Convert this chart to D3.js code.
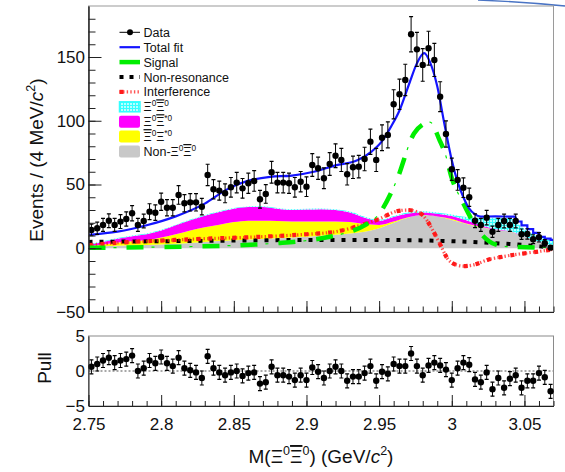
<!DOCTYPE html>
<html>
<head>
<meta charset="utf-8">
<script src="https://cdn.jsdelivr.net/npm/d3@7"></script>
<style>
  body { margin: 0; background: #fff; }
  svg { display: block; font-family: "Liberation Sans", Arial, Helvetica, sans-serif; }
</style>
</head>
<body>
<div id="wrapper"></div>
<script>
// 4 MeV bins from 2.75 to 3.07
const binCenters = d3.range(80).map(i => 2.752 + 0.004 * i)

const counts = [
  14.4, 15.7, 18.3, 21.6, 18.3, 20.9, 23, 27.4, 18.3, 21.4,
  28.7, 27.9, 36.5, 31.8, 31.8, 41.8, 35.3, 36, 36, 32.6,
  57.5, 46.3, 45.2, 43.1, 47.8, 51.5, 47, 51, 52.8, 38.4,
  42.6, 59.6, 51.5, 51.5, 51, 47.8, 52.2, 48.3, 65.3, 62.7,
  54.9, 66.1, 72.6, 69.3, 58, 63.5, 64, 70, 83.6, 69.3,
  86.7, 88.9, 112.9, 120.8, 132, 167.8, 156, 143.8, 156.9, 147.7,
  118.9, 89.6, 62, 53.6, 47.5, 40, 21.6, 18.3, 24, 13,
  18.3, 21.4, 18.3, 21.4, 11, 11.2, 7.1, 8.6, 3.9, 0.5
]
const countErrors = [
  4.6, 4.8, 5.1, 5.4, 5.1, 5.4, 5.6, 6.0, 5.1, 5.4,
  6.2, 6.1, 6.8, 6.4, 6.4, 7.3, 6.7, 6.8, 6.8, 6.5,
  8.4, 7.6, 7.5, 7.4, 7.7, 8.0, 7.7, 7.9, 8.1, 7.0,
  7.3, 8.5, 8.0, 8.0, 7.9, 7.7, 8.0, 7.7, 8.9, 8.7,
  8.2, 8.9, 9.3, 9.1, 8.4, 8.8, 8.8, 9.2, 9.9, 9.1,
  10.1, 10.2, 11.4, 11.8, 12.3, 13.8, 13.3, 12.8, 13.3, 13.0,
  11.7, 10.3, 8.7, 8.1, 7.7, 7.1, 5.4, 5.1, 5.7, 4.4,
  5.1, 5.4, 5.1, 5.4, 4.1, 4.1, 3.5, 3.7, 2.8, 1.5
]
const pulls = [
  0.6, 1.0, 1.5, 1.9, 1.2, 1.5, 1.7, 2.2, 0.0, 0.4,
  1.5, 1.1, 2.0, 1.1, 0.7, 1.9, 0.4, 0.1, -0.2, -1.0,
  2.1, 0.4, -0.2, -0.6, -0.2, 0.0, -0.7, -0.3, -0.2, -1.8,
  -1.6, 0.6, -0.6, -0.6, -0.8, -1.3, -0.6, -1.3, 0.5, -0.1,
  -1.0, 0.0, 0.6, 0.0, -1.4, -0.8, -0.8, -0.3, 0.7, -1.4,
  -0.1, -0.4, 1.0, 0.7, 0.7, 2.5, 0.7, -0.6, 0.8, 1.2,
  0.8, 0.2, -1.3, 0.4, 1.2, 0.9, -1.2, -1.6, -0.2, -2.6,
  -1.0, -2.4, -1.1, -0.6, -2.4, -1.4, -1.4, -0.3, -0.9, -2.9
]
const pullError = 1

// total fit (smooth part, then the binned tail)
const fitMass = [2.75, 2.77, 2.79, 2.81, 2.83, 2.845, 2.86, 2.875, 2.89, 2.905, 2.92, 2.935, 2.945, 2.952, 2.958, 2.964, 2.971, 2.976, 2.981, 2.985, 2.99, 2.995, 3.0, 3.004, 3.008, 3.012, 3.016, 3.02, 3.03, 3.04, 3.044]
const fitValue = [10.5, 13, 18, 25, 35, 46, 53, 56, 57, 60, 65, 69, 76, 84, 95, 108, 130, 145, 153, 146, 127, 97, 69, 52, 40, 31, 26.5, 24.8, 25, 24.8, 24.8]
const fitTailMass = [3.044, 3.044, 3.048, 3.052, 3.056, 3.060, 3.064, 3.068, 3.07]
const fitTailValue = [24.8, 21, 18, 15, 12, 9, 7.5, 6.5, 6.5]

const signalMass = [2.75, 2.8, 2.85, 2.88, 2.9, 2.916, 2.93, 2.94, 2.95, 2.962, 2.974, 2.98, 2.985, 2.9915, 2.9955, 3.0, 3.0076, 3.019, 3.03, 3.04, 3.07]
const signalValue = [0.3, 1, 2.2, 4, 6, 9, 13, 18, 27, 53, 90, 97, 99, 85, 74, 55, 36, 13, 3, 1.2, 0.5]

const nonResMass = [2.75, 2.8, 2.85, 2.9, 2.95, 3.0, 3.03, 3.05, 3.06, 3.07]
const nonResValue = [5, 5.5, 6, 6.5, 6.5, 5.5, 4, 2.5, 1.5, 0.5]

const interfMass = [2.75, 2.78, 2.8, 2.83, 2.86, 2.9, 2.92, 2.94, 2.95, 2.962, 2.97, 2.975, 2.98, 2.986, 2.992, 2.997, 3.003, 3.008, 3.015, 3.025, 3.035, 3.05, 3.06, 3.07]
const interfValue = [2.5, 5, 6, 7.5, 8.6, 11, 13, 19, 23, 29, 30, 29, 26, 16, 3, -8, -13, -14, -13, -9, -6.6, -4, -2.5, -0.8]

// stacked background components, every 10 MeV
const stackMass = d3.range(33).map(i => 2.75 + 0.01 * i)
const greyComp = [0.8, 1.5, 2, 2.3, 2.6, 3, 3.5, 4.2, 5, 5.6, 6.2, 6.8, 7.3, 7.8, 8.5, 9, 9.8, 10.5, 11.5, 13, 15.7, 20, 24, 26, 25, 22.2, 19, 16.5, 14.5, 13, 9, 5, 1.3]
const yellowComp = [0.7, 1.5, 2.5, 3.2, 3.9, 5.5, 7.5, 9.8, 11.5, 12.9, 14.3, 14.8, 14.3, 13.6, 12.5, 12, 11.2, 10.5, 9, 6, 2.6, 1, 0.3, 0, 0, 0.8, 0.5, 0.3, 0.1, 0.1, 0, 0, 0]
const magentaComp = [1, 2, 3, 4, 4.5, 5.5, 7, 8, 9, 10, 10.5, 10.7, 10.7, 9.6, 9, 9.3, 9.6, 9, 7.5, 5, 3.2, 3.5, 3, 2, 2, 2.3, 2.5, 1.2, 0.4, 0.4, 0.2, 0.1, 0]
const cyanComp = [0.5, 0.5, 0.5, 0.5, 0.5, 0.5, 0.5, 0.5, 0.5, 0.5, 0.5, 0.5, 0.7, 0.6, 0.6, 0.7, 0.6, 0.6, 0.8, 0.8, 0.8, 0.8, 1, 1, 1, 1.2, 2.5, 6, 9, 10, 5.8, 3.9, 5.2]

const xMajorTicks = [2.75, 2.8, 2.85, 2.9, 2.95, 3.0, 3.05]
const yMajorTicks = [-50, 0, 50, 100, 150]
const pullTicks = [-5, 0, 5]

const legendLabels = [
  [{ t: "Data" }],
  [{ t: "Total fit" }],
  [{ t: "Signal" }],
  [{ t: "Non-resonance" }],
  [{ t: "Interference" }],
  [{ t: "Ξ" }, { t: "0", sup: true }, { t: "Ξ", bar: true }, { t: "0", sup: true }],
  [{ t: "Ξ" }, { t: "0", sup: true }, { t: "Ξ", bar: true }, { t: "*0", sup: true }],
  [{ t: "Ξ", bar: true }, { t: "0", sup: true }, { t: "Ξ" }, { t: "*0", sup: true }],
  [{ t: "Non-Ξ" }, { t: "0", sup: true }, { t: "Ξ", bar: true }, { t: "0", sup: true }]
]
const xTitle = [{ t: "M(Ξ" }, { t: "0", sup: true }, { t: "Ξ", bar: true }, { t: "0", sup: true }, { t: ") (GeV/" }, { t: "c", it: true }, { t: "2", sup: true }, { t: ")" }]
const yTitle = [{ t: "Events / (4 MeV/" }, { t: "c", it: true }, { t: "2", sup: true }, { t: ")" }]

const dimensions = {
  width: 565,
  height: 472,
  left: 88.5,
  right: 553.5,
  mainTop: 6,
  mainBottom: 312,
  pullTop: 336,
  pullBottom: 406
}

const colors = {
  grey: "#c8c8c8",
  yellow: "#ffff00",
  magenta: "#ff00ff",
  cyan: "#33ffff",
  signal: "#00ee00",
  fit: "#1414ff",
  interf: "#ff1a1a"
}

const svg = d3.select("#wrapper")
  .append("svg")
    .attr("width", dimensions.width)
    .attr("height", dimensions.height)

const xScale = d3.scaleLinear()
  .domain([2.75, 3.07])
  .range([dimensions.left, dimensions.right])
const yScale = d3.scaleLinear()
  .domain([-50, 190])
  .range([dimensions.mainBottom, dimensions.mainTop])
const pullScale = d3.scaleLinear()
  .domain([-5, 5])
  .range([dimensions.pullBottom, dimensions.pullTop])

const defs = svg.append("defs")
defs.append("clipPath").attr("id", "clipMain")
  .append("rect")
    .attr("x", dimensions.left).attr("y", dimensions.mainTop)
    .attr("width", dimensions.right - dimensions.left)
    .attr("height", dimensions.mainBottom - dimensions.mainTop)
const hatch = defs.append("pattern")
  .attr("id", "hatch")
  .attr("patternUnits", "userSpaceOnUse")
  .attr("width", 3).attr("height", 3)
hatch.append("rect").attr("width", 3).attr("height", 3).attr("fill", "#b8ffff")
hatch.append("path").attr("d", "M0,0.5H3M0.5,0V3").attr("stroke", colors.cyan).attr("stroke-width", 1)

// slide decoration at the top edge
svg.append("line")
  .attr("x1", dimensions.right).attr("x2", 565).attr("y1", 5.5).attr("y2", 5.5)
  .attr("stroke", "#cfcfcf")
svg.append("path")
  .attr("d", "M478,0 Q525,2 565,6")
  .attr("fill", "none").attr("stroke", "#4a74c4").attr("stroke-width", 1.3)

const plot = svg.append("g").attr("clip-path", "url(#clipMain)")

// stacked backgrounds
const stackRows = stackMass.map((m, i) => ({
  m, grey: greyComp[i], yellow: yellowComp[i], magenta: magentaComp[i], cyan: cyanComp[i]
}))
const series = d3.stack().keys(["grey", "yellow", "magenta", "cyan"])(stackRows)
const areaGen = d3.area()
  .x(d => xScale(d.data.m))
  .y0(d => yScale(d[0]))
  .y1(d => yScale(d[1]))
  .curve(d3.curveMonotoneX)
const fills = { grey: colors.grey, yellow: colors.yellow, magenta: colors.magenta, cyan: "url(#hatch)" }
plot.selectAll("path.layer")
  .data(series)
  .join("path")
    .attr("class", "layer")
    .attr("d", areaGen)
    .attr("fill", d => fills[d.key])

const curve = (xs, ys, c) => d3.line()
  .x((d, i) => xScale(xs[i]))
  .y((d, i) => yScale(ys[i]))
  .curve(c || d3.curveMonotoneX)(xs)

// non-resonance
plot.append("path")
  .attr("d", curve(nonResMass, nonResValue))
  .attr("fill", "none").attr("stroke", "#000")
  .attr("stroke-width", 4).attr("stroke-dasharray", "4,7")

// interference
plot.append("path")
  .attr("d", curve(interfMass, interfValue))
  .attr("fill", "none").attr("stroke", colors.interf).attr("stroke-opacity", 0.75)
  .attr("stroke-width", 3.2).attr("stroke-dasharray", "1.4,2.2")
plot.append("path")
  .attr("d", curve(interfMass, interfValue))
  .attr("fill", "none").attr("stroke", colors.interf)
  .attr("stroke-width", 4.2).attr("stroke-dasharray", "4,8")

// signal
plot.append("path")
  .attr("d", curve(signalMass, signalValue))
  .attr("fill", "none").attr("stroke", colors.signal)
  .attr("stroke-width", 1.2).attr("stroke-dasharray", "3,35").attr("stroke-dashoffset", -25)
plot.append("path")
  .attr("d", curve(signalMass, signalValue))
  .attr("fill", "none").attr("stroke", colors.signal)
  .attr("stroke-width", 4.5).attr("stroke-dasharray", "17,21")

// total fit
plot.append("path")
  .attr("d", curve(fitMass, fitValue))
  .attr("fill", "none").attr("stroke", colors.fit).attr("stroke-width", 2.2)
plot.append("path")
  .attr("d", curve(fitTailMass, fitTailValue, d3.curveStepAfter))
  .attr("fill", "none").attr("stroke", colors.fit).attr("stroke-width", 2.2)

// data points
const drawPoints = (g, xs, ys, errs, yS) => {
  const pts = g.selectAll("g.pt")
    .data(xs.map((x, i) => ({ x, y: ys[i], e: errs[i] })))
    .join("g").attr("class", "pt")
  pts.append("line")
    .attr("x1", d => xScale(d.x)).attr("x2", d => xScale(d.x))
    .attr("y1", d => yS(d.y - d.e)).attr("y2", d => yS(d.y + d.e))
    .attr("stroke", "#000").attr("stroke-width", 1)
  pts.append("path")
    .attr("d", d => {
      const cx = xScale(d.x)
      return `M${cx - 2},${yS(d.y - d.e)}H${cx + 2}M${cx - 2},${yS(d.y + d.e)}H${cx + 2}`
    })
    .attr("stroke", "#000").attr("stroke-width", 1.2)
  pts.append("circle")
    .attr("cx", d => xScale(d.x)).attr("cy", d => yS(d.y))
    .attr("r", 3.2).attr("fill", "#000")
}
drawPoints(plot.append("g"), binCenters, counts, countErrors, yScale)

// frames
svg.append("rect")
  .attr("x", dimensions.left).attr("y", dimensions.mainTop)
  .attr("width", dimensions.right - dimensions.left)
  .attr("height", dimensions.mainBottom - dimensions.mainTop)
  .attr("fill", "none").attr("stroke", "#9a9a9a")
svg.append("rect")
  .attr("x", dimensions.left).attr("y", dimensions.pullTop)
  .attr("width", dimensions.right - dimensions.left)
  .attr("height", dimensions.pullBottom - dimensions.pullTop)
  .attr("fill", "none").attr("stroke", "#8a8a8a")

const styleAxis = g => {
  g.attr("font-size", 17).attr("font-family", "Liberation Sans, Arial, sans-serif")
  g.selectAll("text").attr("fill", "#111")
  g.selectAll("line").attr("stroke", "#222")
  g.select(".domain").attr("stroke", "#222")
}

// main panel axes
svg.append("g")
  .attr("transform", `translate(${dimensions.left},0)`)
  .call(d3.axisLeft(yScale).tickValues(d3.range(-40, 190, 10)).tickSize(-7).tickSizeOuter(0).tickFormat(""))
  .call(styleAxis)
svg.append("g")
  .attr("transform", `translate(${dimensions.left},0)`)
  .call(d3.axisLeft(yScale).tickValues(yMajorTicks).tickSize(-13).tickSizeOuter(0).tickPadding(3.5).tickFormat(d3.format("d")))
  .call(styleAxis)
svg.append("g")
  .attr("transform", `translate(0,${dimensions.mainBottom})`)
  .call(d3.axisBottom(xScale).tickValues(d3.range(0, 33).map(i => 2.75 + 0.01 * i)).tickSize(-5.5).tickSizeOuter(0).tickFormat(""))
  .call(styleAxis)
svg.append("g")
  .attr("transform", `translate(0,${dimensions.mainBottom})`)
  .call(d3.axisBottom(xScale).tickValues(xMajorTicks).tickSize(-11).tickSizeOuter(0).tickFormat(""))
  .call(styleAxis)

// pull panel
const pullG = svg.append("g")
pullG.append("line")
  .attr("x1", dimensions.left).attr("x2", dimensions.right)
  .attr("y1", pullScale(0)).attr("y2", pullScale(0))
  .attr("stroke", "#8c8c8c").attr("stroke-width", 1.6).attr("stroke-dasharray", "2,2")
drawPoints(pullG, binCenters, pulls, binCenters.map(() => pullError), pullScale)

svg.append("g")
  .attr("transform", `translate(0,${dimensions.pullBottom})`)
  .call(d3.axisBottom(xScale).tickValues(d3.range(0, 33).map(i => 2.75 + 0.01 * i)).tickSize(-5).tickSizeOuter(0).tickFormat(""))
  .call(styleAxis)
svg.append("g")
  .attr("transform", `translate(0,${dimensions.pullBottom})`)
  .call(d3.axisBottom(xScale).tickValues(xMajorTicks).tickSize(-11).tickSizeOuter(0).tickPadding(12)
    .tickFormat(d => String(+d.toFixed(2))))
  .call(styleAxis)
svg.append("g")
  .attr("transform", `translate(${dimensions.left},0)`)
  .call(d3.axisLeft(pullScale).tickValues(pullTicks).tickSize(0).tickSizeOuter(0).tickPadding(3.5).tickFormat(d3.format("d")))
  .call(styleAxis)

// rich text helper for super-scripts, bars, italics
function richText(sel, parts, size) {
  let shift = 0
  parts.forEach(p => {
    const target = p.sup ? -0.42 * size : 0
    const ts = sel.append("tspan").text(p.t).attr("dy", target - shift)
    shift = target
    if (p.sup) ts.attr("font-size", size * 0.66)
    if (p.it) ts.attr("font-style", "italic")
    if (p.bar) ts.style("text-decoration", "overline")
  })
}

// titles
const xt = svg.append("text")
  .attr("x", (dimensions.left + dimensions.right) / 2).attr("y", 463)
  .attr("text-anchor", "middle").attr("font-size", 19).attr("fill", "#111")
richText(xt, xTitle, 19)
const yt = svg.append("text")
  .attr("transform", "translate(43,160) rotate(-90)")
  .attr("text-anchor", "middle").attr("font-size", 19).attr("fill", "#111")
richText(yt, yTitle, 19)
svg.append("text")
  .attr("transform", "translate(51,368) rotate(-90)")
  .attr("text-anchor", "middle").attr("font-size", 19).attr("fill", "#111")
  .text("Pull")

// legend
const legend = svg.append("g")
const rowY = k => 32.3 + k * 14.9
const symX0 = 119.5, symX1 = 140
legendLabels.forEach((parts, k) => {
  const t = legend.append("text")
    .attr("x", 143.5).attr("y", rowY(k) + 4.5)
    .attr("font-size", 12.5).attr("fill", "#111")
  richText(t, parts, 12.5)
})
legend.append("line").attr("x1", symX0).attr("x2", symX1).attr("y1", rowY(0)).attr("y2", rowY(0)).attr("stroke", "#000")
legend.append("circle").attr("cx", 130).attr("cy", rowY(0)).attr("r", 3).attr("fill", "#000")
legend.append("line").attr("x1", symX0).attr("x2", symX1).attr("y1", rowY(1)).attr("y2", rowY(1)).attr("stroke", colors.fit).attr("stroke-width", 2.2)
legend.append("line").attr("x1", symX0).attr("x2", symX1).attr("y1", rowY(2)).attr("y2", rowY(2)).attr("stroke", colors.signal).attr("stroke-width", 4.5)
legend.append("line").attr("x1", symX0).attr("x2", symX1).attr("y1", rowY(3)).attr("y2", rowY(3)).attr("stroke", "#000").attr("stroke-width", 4).attr("stroke-dasharray", "4,6")
legend.append("line").attr("x1", symX0).attr("x2", symX1).attr("y1", rowY(4)).attr("y2", rowY(4)).attr("stroke", colors.interf).attr("stroke-width", 3.2).attr("stroke-opacity", 0.75).attr("stroke-dasharray", "1.4,2.2")
legend.append("line").attr("x1", symX0).attr("x2", symX0 + 4).attr("y1", rowY(4)).attr("y2", rowY(4)).attr("stroke", colors.interf).attr("stroke-width", 4.2)
legend.append("rect").attr("x", symX0).attr("y", rowY(5) - 5).attr("width", 20.5).attr("height", 10)
  .attr("fill", "url(#hatch)").attr("stroke", colors.cyan).attr("stroke-width", 1.5)
;[colors.magenta, colors.yellow, colors.grey].forEach((c, j) => {
  legend.append("rect").attr("x", symX0 - 0.5).attr("y", rowY(6 + j) - 6).attr("width", 21).attr("height", 12)
    .attr("rx", 2).attr("fill", c)
})
</script>
</body>
</html>
